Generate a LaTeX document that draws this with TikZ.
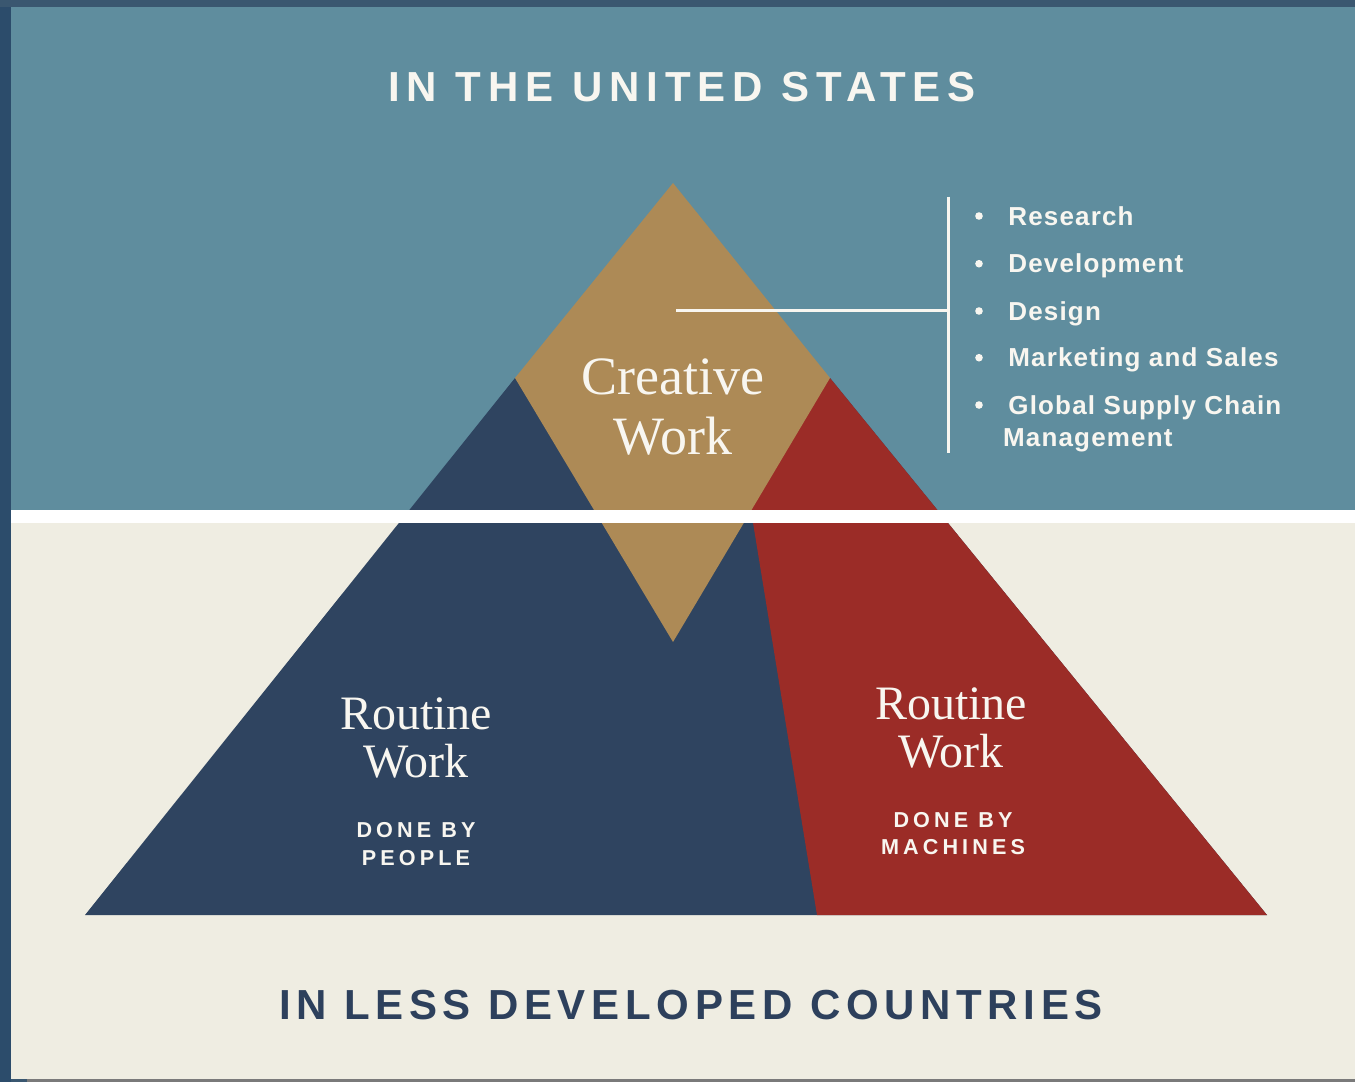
\documentclass[tikz,border=0pt]{standalone}
\usepackage{fontspec}
\setmainfont{Liberation Serif}
\newfontfamily\headfont[LetterSpace=16.5]{Liberation Sans}
\newfontfamily\footfont[LetterSpace=13.5]{Liberation Sans}
\newfontfamily\tagfont[LetterSpace=19]{Liberation Sans}
\newfontfamily\listfont[LetterSpace=4.5]{Liberation Sans}
\definecolor{skyband}{HTML}{5F8D9E}
\definecolor{creamband}{HTML}{EFEDE2}
\definecolor{pyrnavy}{HTML}{2F4460}
\definecolor{pyrred}{HTML}{9B2C27}
\definecolor{pyrgold}{HTML}{AD8A56}
\definecolor{frametop}{HTML}{3A5770}
\definecolor{frameside}{HTML}{2C4C6B}
\definecolor{framegray}{HTML}{7A7A7A}
\definecolor{inkwhite}{HTML}{F8F6F0}
\definecolor{inknavy}{HTML}{2D405C}
\begin{document}
\begin{tikzpicture}[x=0.5pt, y=-0.5pt, line join=miter,
  head node/.style={inner sep=0pt, font=\bfseries\fontsize{21}{25}\selectfont},
  work node/.style={inner sep=0pt, align=center, text=inkwhite},
  tag node/.style={inner sep=0pt, align=center, text=inkwhite, font=\tagfont\bfseries\fontsize{10.8}{13.9}\selectfont},
  item node/.style={inner sep=0pt, anchor=base west, text=inkwhite, font=\listfont\bfseries\fontsize{13}{15}\selectfont},
  rule line/.style={draw=inkwhite, line width=1.3pt}]
\useasboundingbox (0,0) rectangle (1355,1082);
\begin{scope}
\fill[frametop] (0,0) rectangle (1355,1082);
\fill[frameside] (0,7) rectangle (11,1082);
\fill[framegray] (27,1079) rectangle (1355,1082);
\fill[skyband] (11,7) rectangle (1355,511);
\fill[creamband] (11,511) rectangle (1355,1079);
\end{scope}
\begin{scope}
\fill[pyrnavy] (515,378) -- (85,915) -- (1267,915) -- (830,378) -- cycle;
\fill[pyrred] (748,492) -- (830,378) -- (1267,915) -- (817,915) -- cycle;
\fill[pyrgold] (673,183) -- (830,378) -- (673,642) -- (515,378) -- cycle;
\fill[white] (11,510) rectangle (1355,523);
%\fill[] () rectangle ();
\end{scope}
\begin{scope}
\node[head node, text=inkwhite, font=\headfont\bfseries\fontsize{21}{25}\selectfont] (us) at (682,86.7) {IN THE UNITED STATES};
\node[head node, text=inknavy, font=\footfont\bfseries\fontsize{21}{25}\selectfont] (ldc) at (691,1005.5) {IN LESS DEVELOPED COUNTRIES};
\node[work node, font=\fontsize{27}{30}\selectfont] (creative) at (673,407) {Creative\\Work};
\node[work node, font=\fontsize{24}{24}\selectfont] (people) at (416,738) {Routine\\Work};
\node[work node, font=\fontsize{24}{24}\selectfont] (machines) at (951,727.5) {Routine\\Work};
\node[tag node] (bypeople) at (416,844) {DONE BY\\PEOPLE};
\node[tag node] (bymachines) at (953,833.5) {DONE BY\\MACHINES};
\end{scope}
\begin{scope}
\node[item node] (research) at (1008,225) {Research};
\node[item node] (develop) at (1008,272.7) {Development};
\node[item node] (design) at (1008,320) {Design};
\node[item node] (marketing) at (1008,366.7) {Marketing and Sales};
\node[item node] (supply) at (1008,414) {Global Supply Chain};
\node[item node] (manage) at (1002.7,446.7) {Management};
\foreach \y in {216,263.7,311,357.7,405}
  \fill[inkwhite] (979,\y) circle[radius=1.9pt];
\end{scope}
\begin{scope}
\coordinate (cw) at (676,310.7);
\coordinate (brk) at (948.3,310.7);
\coordinate (brktop) at (948.3,196.7);
\coordinate (brkbot) at (948.3,453);
\draw[rule line] (cw) -- (brk);
\draw[rule line] (brktop) -- (brkbot);
\end{scope}
\end{tikzpicture}
\end{document}
